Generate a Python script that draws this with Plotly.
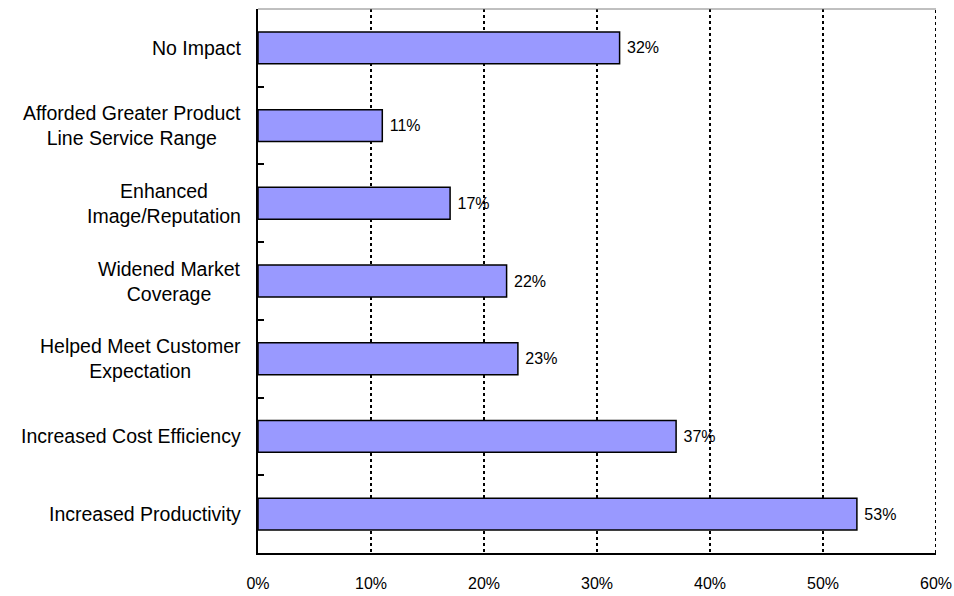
import plotly.graph_objects as go

# Survey results: share of respondents reporting each impact
categories = [
    "No Impact",
    "Afforded Greater Product<br>Line Service Range",
    "Enhanced<br>Image/Reputation",
    "Widened Market<br>Coverage",
    "Helped Meet Customer<br>Expectation",
    "Increased Cost Efficiency",
    "Increased Productivity",
]
values = [32, 11, 17, 22, 23, 37, 53]
x_ticks = [0, 10, 20, 30, 40, 50, 60]

FONT = "Liberation Sans, Arial, sans-serif"

fig = go.Figure(
    go.Bar(
        x=values,
        y=categories,
        orientation="h",
        width=0.41,
        marker=dict(color="#9999FF", line=dict(color="black", width=1.5)),
        text=[f" {v}%" for v in values],
        textposition="outside",
        textfont=dict(family=FONT, size=16, color="black"),
        cliponaxis=False,
        hoverinfo="skip",
    )
)

# Category labels as centred multi-line annotations left of the axis
for cat in categories:
    fig.add_annotation(
        x=0, xref="paper", y=cat, yref="y",
        text=cat, showarrow=False,
        xanchor="right", xshift=-15, align="center",
        font=dict(family=FONT, size=19.5, color="black"),
    )

# Thin grey frame line along the top of the plot area
fig.add_shape(
    type="line", xref="paper", yref="paper",
    x0=0, x1=1, y0=1, y1=1,
    line=dict(color="#808080", width=1),
)
# Dotted right edge at the last gridline
fig.add_shape(
    type="line", xref="x", yref="paper",
    x0=x_ticks[-1], x1=x_ticks[-1], y0=0, y1=1,
    line=dict(color="black", width=2, dash="dot"),
)

fig.update_layout(
    width=954, height=596,
    margin=dict(l=258, r=18, t=9, b=43),
    paper_bgcolor="white", plot_bgcolor="white",
    showlegend=False,
    font=dict(family=FONT, color="black"),
    xaxis=dict(
        range=[0, 60],
        automargin=False,
        tickvals=x_ticks,
        ticktext=[f"{t}%" for t in x_ticks],
        showgrid=True, gridcolor="black", gridwidth=2, griddash="dot",
        zeroline=False,
        showline=True, linecolor="black", linewidth=2,
        ticks="", ticklabelstandoff=15,
        tickfont=dict(family=FONT, size=16, color="black"),
    ),
    yaxis=dict(
        categoryorder="array", categoryarray=categories,
        autorange="reversed",
        automargin=False,
        showticklabels=False,
        showgrid=False, zeroline=False,
        showline=True, linecolor="black", linewidth=2,
        ticks="inside", tickson="boundaries", ticklen=6,
        tickcolor="black", tickwidth=1.5,
    ),
)

fig.write_html("out.html")
